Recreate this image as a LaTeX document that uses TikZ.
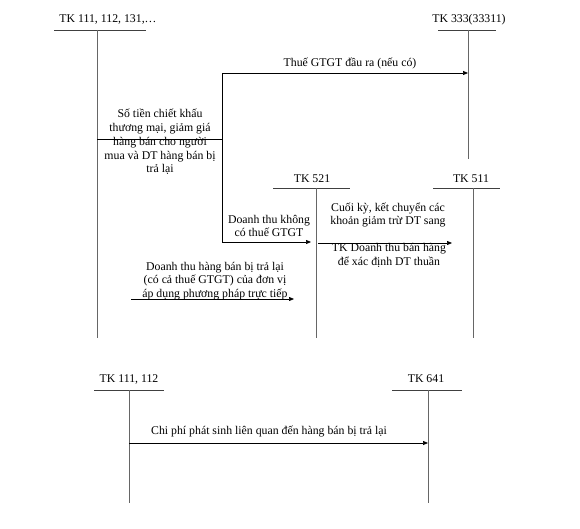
\documentclass[tikz,border=0pt]{standalone}
\usepackage{fontspec}
\setmainfont{Liberation Serif}
\usetikzlibrary{arrows.meta}
\begin{document}
\begin{tikzpicture}[x=1pt,y=-1pt,
  lbl/.style={font=\fontsize{11.8}{13.8}\selectfont, inner sep=0pt, align=center},
  hline/.style={line width=0.7pt, black!75},
  vline/.style={line width=0.7pt, black!60},
  arr/.style={line width=0.7pt, black, -{Triangle[length=5pt,width=4pt]}},
  conn/.style={line width=0.7pt, black}]
\useasboundingbox (0,0) rectangle (580,529);
% account labels
\node[lbl] (a111) at (108,20) {TK 111, 112, 131,…};
\node[lbl] (a333) at (469,20) {TK 333(33311)};
\node[lbl] (a521) at (312,179) {TK 521};
\node[lbl] (a511) at (471,179) {TK 511};
\node[lbl] (b111) at (129,379) {TK 111, 112};
\node[lbl] (b641) at (426,379) {TK 641};
% T-account coordinates
\coordinate (t111L) at (54,30);  \coordinate (t111R) at (146,30);
\coordinate (t111T) at (97,30);  \coordinate (t111B) at (97,338);
\coordinate (t333L) at (438,30); \coordinate (t333R) at (496,30);
\coordinate (t333T) at (468,30); \coordinate (t333B) at (468,159);
\coordinate (t521L) at (273,188); \coordinate (t521R) at (350,188);
\coordinate (t521T) at (316,188); \coordinate (t521B) at (316,338);
\coordinate (t511L) at (433,188); \coordinate (t511R) at (500,188);
\coordinate (t511T) at (473,188); \coordinate (t511B) at (473,338);
\coordinate (u111L) at (94,390);  \coordinate (u111R) at (164,390);
\coordinate (u111T) at (129,390); \coordinate (u111B) at (129,503);
\coordinate (u641L) at (392,390); \coordinate (u641R) at (462,390);
\coordinate (u641T) at (428,390); \coordinate (u641B) at (428,503);
\draw[hline] (t111L) -- (t111R); \draw[vline] (t111T) -- (t111B);
\draw[hline] (t333L) -- (t333R); \draw[vline] (t333T) -- (t333B);
\draw[hline] (t521L) -- (t521R); \draw[vline] (t521T) -- (t521B);
\draw[hline] (t511L) -- (t511R); \draw[vline] (t511T) -- (t511B);
\draw[hline] (u111L) -- (u111R); \draw[vline] (u111T) -- (u111B);
\draw[hline] (u641L) -- (u641R); \draw[vline] (u641T) -- (u641B);
% connectors
\coordinate (s1) at (97,139);
\coordinate (k1) at (222,139);
\coordinate (k2) at (222,73);
\coordinate (e1) at (468,73);
\coordinate (k3) at (222,242);
\coordinate (e2) at (311,242);
\draw[conn] (s1) -- (k1);
\draw[arr] (k1) -- (k2) -- (e1);
\draw[arr] (k1) -- (k3) -- (e2);
\coordinate (s3) at (318,243);
\coordinate (e3) at (452,243);
\draw[arr] (s3) -- (e3);
\coordinate (s4) at (131,299);
\coordinate (e4) at (294,299);
\draw[arr] (s4) -- (e4);
\coordinate (s5) at (129,443);
\coordinate (e5) at (428,443);
\draw[arr] (s5) -- (e5);
% texts
\node[lbl] (txt1) at (350,63) {Thuế GTGT đầu ra (nếu có)};
\node[lbl] (txt2) at (160,142) {Số tiền chiết khấu\\thương mại, giảm giá\\hàng bán cho người\\mua và DT hàng bán bị\\trả lại};
\node[lbl] (txt3) at (269,226) {Doanh thu không\\có thuế GTGT};
\node[lbl] (txt4) at (388,215) {Cuối kỳ, kết chuyển các\\khoản giảm trừ DT sang};
\node[lbl] (txt5) at (389,255) {TK Doanh thu bán hàng\\để xác định DT thuần};
\node[lbl] (txt6) at (215,281) {Doanh thu hàng bán bị trả lại\\(có cả thuế GTGT) của đơn vị\\áp dụng phương pháp trực tiếp};
\node[lbl] (txt7) at (269,431) {Chi phí phát sinh liên quan đến hàng bán bị trả lại};
\end{tikzpicture}
\end{document}
